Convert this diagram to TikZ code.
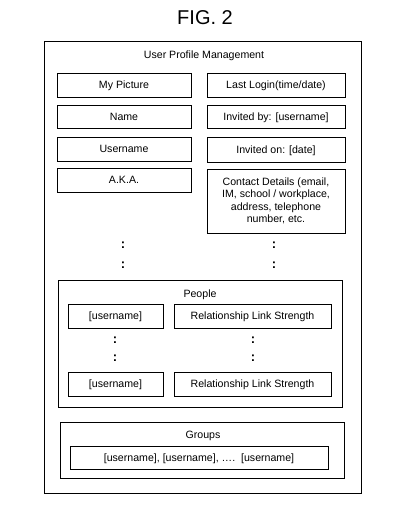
\documentclass[tikz,border=0pt]{standalone}
\usepackage{fontspec}
\setmainfont{Liberation Sans}
\tikzset{
	field/.style={draw, line width=0.8pt, inner sep=1pt, font=\fontsize{10.6}{12.4}\selectfont},
	oneline/.style={field, text height=7.6pt, text depth=0pt},
	panel/.style={draw, line width=0.8pt},
	caption/.style={font=\fontsize{10.6}{12.4}\selectfont, text height=7.6pt, text depth=0pt},
	more/.style={font=\fontsize{13}{14}\selectfont\bfseries}
}
\begin{document}
\begin{tikzpicture}[x=1pt, y=-1pt]
	\useasboundingbox (0, 0) rectangle (400, 505);
	\node at (205, 18) [font=\fontsize{20}{24}\selectfont] (fig) {FIG. 2};
	% outer frame
	\node at (202.5, 267) [panel, minimum width=317pt, minimum height=452pt] (upm) {};
	\node at (204, 55) [caption] (upmtitle) {User Profile Management};
	% left column
	\node at (124, 85) [oneline, minimum width=134pt, minimum height=24pt] (picture) {My Picture};
	\node at (124, 116.5) [oneline, minimum width=134pt, minimum height=23pt] (name) {Name};
	\node at (124, 149) [oneline, minimum width=134pt, minimum height=24pt] (username) {Username};
	\node at (124, 180) [oneline, minimum width=134pt, minimum height=24pt] (aka) {A.K.A.};
	% right column
	\node at (276, 85) [oneline, minimum width=138pt, minimum height=24pt] (login) {Last Login(time/date)};
	\node at (276, 116.5) [oneline, minimum width=138pt, minimum height=23pt] (invby) {Invited by: [username]};
	\node at (276, 149.5) [oneline, minimum width=138pt, minimum height=25pt] (invon) {Invited on: [date]};
	\node at (276, 201) [field, align=center, minimum width=138pt, minimum height=64pt] (contact)
		{Contact Details (email,\\IM, school / workplace,\\address, telephone\\number, etc.};
	\node at (123, 245) [more] (dotsla) {:};
	\node at (123, 265) [more] (dotslb) {:};
	\node at (274, 245) [more] (dotsra) {:};
	\node at (274, 265) [more] (dotsrb) {:};
	% people
	\node at (200, 343.5) [panel, minimum width=284pt, minimum height=127pt] (people) {};
	\node at (200, 294) [caption] (peopletitle) {People};
	\node at (115.5, 316) [oneline, minimum width=95pt, minimum height=24pt] (usera) {[username]};
	\node at (252.5, 316) [oneline, minimum width=157pt, minimum height=24pt] (linka) {Relationship Link Strength};
	\node at (115.5, 384) [oneline, minimum width=95pt, minimum height=24pt] (userb) {[username]};
	\node at (252.5, 384) [oneline, minimum width=157pt, minimum height=24pt] (linkb) {Relationship Link Strength};
	\node at (115, 340) [more] (dotspa) {:};
	\node at (115, 358) [more] (dotspb) {:};
	\node at (253, 340) [more] (dotsqa) {:};
	\node at (253, 358) [more] (dotsqb) {:};
	% groups
	\node at (202, 450) [panel, minimum width=284pt, minimum height=56pt] (groups) {};
	\node at (203, 435) [caption] (groupstitle) {Groups};
	\node at (199, 457.5) [oneline, minimum width=258pt, minimum height=23pt] (members) {[username], [username], \dots.\ \ [username]};
\end{tikzpicture}
\end{document}
